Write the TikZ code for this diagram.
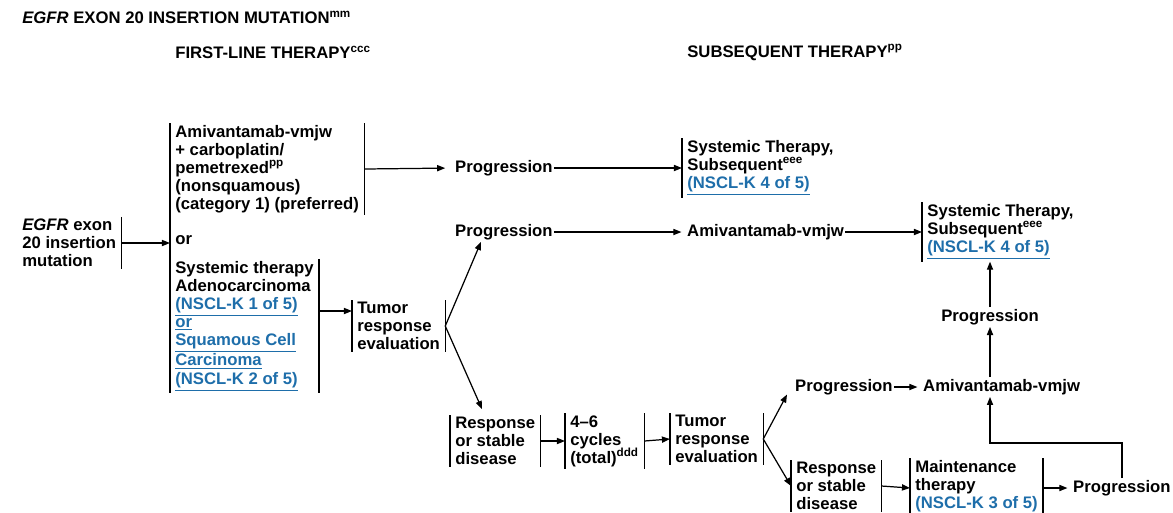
\documentclass[tikz,border=0pt]{standalone}
\usepackage{fontspec}
\setmainfont{Liberation Sans}
\usetikzlibrary{positioning,arrows.meta}
\definecolor{linkblue}{RGB}{30,110,170}
\newcommand{\nsclk}[1]{\textcolor{linkblue}{\underline{#1}}}
\newcommand{\fnote}[1]{\smash{\textsuperscript{#1}}}

\tikzset{
  txt/.style={font=\fontsize{9.5}{10.25}\selectfont\bfseries, align=left,
    inner xsep=2.85pt, inner ysep=1pt, anchor=west},
  plain/.style={txt, inner xsep=0.5pt},
  barline/.style={line width=0.8pt, -},
  lbar/.style={append after command={(\tikzlastnode.north west) edge[barline] (\tikzlastnode.south west)}},
  rbar/.style={append after command={(\tikzlastnode.north east) edge[barline] (\tikzlastnode.south east)}},
  bbar/.style={lbar, rbar},
  arr/.style={line width=0.7pt, -{Triangle[length=4.6pt,width=3.5pt]}},
  arrin/.style={arr, shorten >=2.6pt},
}

\begin{document}
\begin{tikzpicture}[x=0.02cm, y=-0.02cm]
  \useasboundingbox (0,0) rectangle (1173,512);
  \clip (0,0) rectangle (1173,512);
  % Headings
  \node[txt, inner sep=0pt] (title) at (22,18) {\textit{EGFR} EXON 20 INSERTION MUTATION\fnote{mm}};
  \node[txt, inner sep=0pt] (firsthead) at (175,53) {FIRST-LINE THERAPY\fnote{ccc}};
  \node[txt, inner sep=0pt] (subhead) at (687,53) {SUBSEQUENT THERAPY\fnote{pp}};
  % First-line nodes
  \node[txt, rbar] (egfr) at (17,243) {\textit{EGFR} exon\\20 insertion\\mutation};
  \node[txt, rbar] (amivchemo) at (170,169) {Amivantamab-vmjw\\+ carboplatin/\\pemetrexed\fnote{pp}\\(nonsquamous)\\(category 1) (preferred)};
  \node[txt] (or) at (170,240) {or};
  \node[txt, rbar] (systemic) at (170,326) {Systemic therapy\\Adenocarcinoma\\\nsclk{(NSCL-K 1 of 5)}\\\nsclk{or}\\\nsclk{Squamous Cell}\\\nsclk{Carcinoma}\\\nsclk{(NSCL-K 2 of 5)}};
  \node[txt, bbar] (tumorA) at (352,326) {Tumor\\response\\evaluation};
  % Subsequent nodes
  \node[plain] (progA) at (454,168) {Progression};
  \node[txt, lbar] (subseqA) at (682,168) {Systemic Therapy,\\Subsequent\fnote{eee}\\\nsclk{(NSCL-K 4 of 5)}};
  \node[plain] (progB) at (454,232) {Progression};
  \node[plain] (amivA) at (686,232) {Amivantamab-vmjw};
  \node[txt, lbar] (subseqB) at (922,232) {Systemic Therapy,\\Subsequent\fnote{eee}\\\nsclk{(NSCL-K 4 of 5)}};
  \node[txt, anchor=center] (progC) at (990,317) {Progression};
  \node[plain] (amivB) at (922,387) {Amivantamab-vmjw};
  \node[plain] (progD) at (794,387) {Progression};
  \node[txt, bbar] (respA) at (450,441) {Response\\or stable\\disease};
  \node[txt, bbar] (cycles) at (565,441) {4--6\\cycles\\(total)\fnote{ddd}};
  \node[txt, bbar] (tumorB) at (670,439) {Tumor\\response\\evaluation};
  \node[txt, bbar] (respB) at (791,486) {Response\\or stable\\disease};
  \node[txt, bbar] (maint) at (910,488) {Maintenance\\therapy\\\nsclk{(NSCL-K 3 of 5)}};
  \node[plain] (progE) at (1072,488) {Progression};
  \coordinate (loop) at (990,443);
  % Bracket
  \draw[barline] (amivchemo.north west) -- (systemic.south west);
  % Arrows
  \draw[arr] (egfr.east) -- (egfr.east -| or.west);
  \draw[arrin, shorten >=5pt] (amivchemo.east) -- (progA.west);
  \draw[arr] (progA.east) -- (subseqA.west);
  \draw[arr] ([yshift=0.3cm]systemic.east) -- ([yshift=0.3cm]systemic.east -| tumorA.west);
  \draw[arr] (tumorA.east) -- ([xshift=0.54cm]progB.south west);
  \draw[arr] (tumorA.east) -- ([xshift=0.64cm,yshift=0.12cm]respA.north west);
  \draw[arrin] (progB.east) -- (amivA.west);
  \draw[arr] (amivA.east) -- (subseqB.west);
  \draw[arr] (progC.north) -- (progC.north |- subseqB.south);
  \draw[arr] (progC.south |- amivB.north) -- (progC.south);
  \draw[arr] (respA.east) -- (cycles.west);
  \draw[arr] (cycles.east) -- (tumorB.west);
  \draw[arr] (tumorB.east) -- ([xshift=-0.14cm,yshift=-0.15cm]progD.west);
  \draw[arr] (tumorB.east) -- (respB.west);
  \draw[arrin] (progD.east) -- (amivB.west);
  \draw[arr] (respB.east) -- (maint.west);
  \draw[arrin] (maint.east) -- (progE.west);
  \draw[arr] (progE.north) |- (loop) -- (loop |- amivB.south);
\end{tikzpicture}
\end{document}
